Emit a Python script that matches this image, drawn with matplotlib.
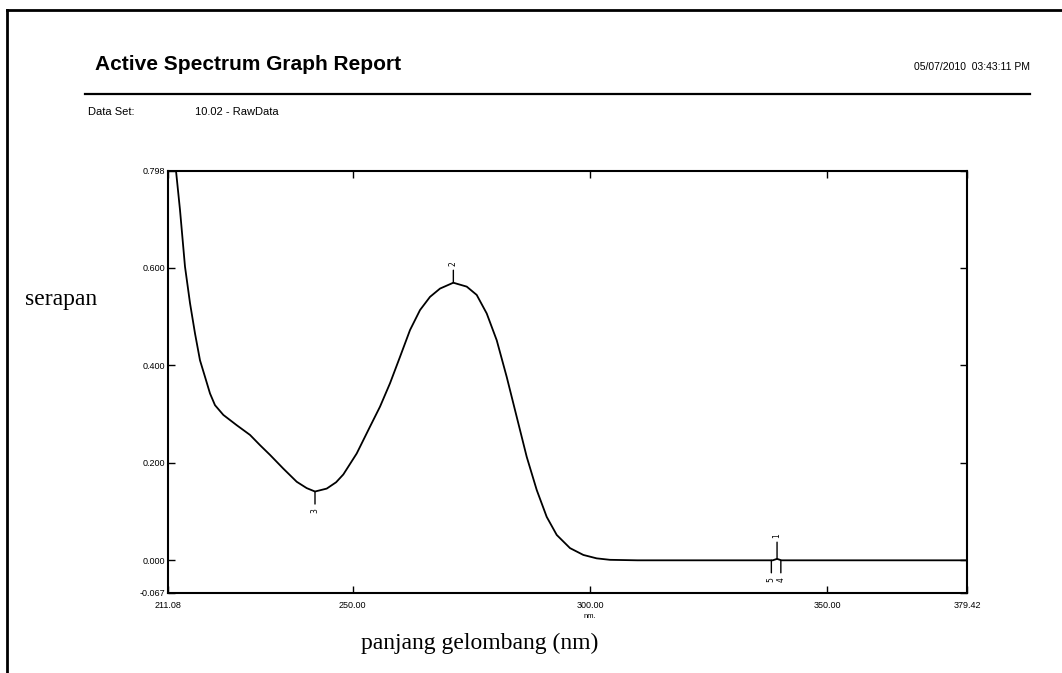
import matplotlib.pyplot as plt
from matplotlib.lines import Line2D

# ---------------------------------------------------------
# spectrum (nm, absorbance)
# ---------------------------------------------------------
wavelength = [211.70, 212.77, 213.61, 214.66, 215.72, 216.77, 217.82, 218.88,
              219.93, 220.98, 222.74, 225.55, 228.36, 230.47, 232.58, 235.37,
              238.20, 240.30, 242.05, 244.52, 246.50, 248.02, 250.84, 253.64,
              255.75, 257.86, 259.96, 262.07, 264.18, 266.28, 268.39, 271.19,
              274.02, 276.12, 278.23, 280.34, 282.44, 284.55, 286.66, 288.77,
              290.87, 292.98, 295.78, 298.59, 301.40, 304.21, 310.0, 338.5,
              339.4, 340.3, 379.42]
absorbance = [0.900, 0.798, 0.718, 0.602, 0.527, 0.465, 0.410, 0.376,
              0.342, 0.318, 0.298, 0.277, 0.257, 0.236, 0.216, 0.188,
              0.161, 0.148, 0.141, 0.147, 0.160, 0.176, 0.219, 0.274,
              0.315, 0.363, 0.417, 0.472, 0.513, 0.540, 0.557, 0.569,
              0.561, 0.544, 0.506, 0.451, 0.376, 0.294, 0.212, 0.144,
              0.089, 0.052, 0.025, 0.011, 0.004, 0.001, 0.000, 0.000,
              0.003, 0.000, 0.000]

# peak picks: label, wavelength, absorbance, above/below
peak_labels = ["1", "2", "3", "4", "5"]
peak_wl = [339.4, 271.2, 242.05, 340.2, 338.2]
peak_abs = [0.003, 0.569, 0.141, 0.000, 0.000]
peak_up = [True, True, False, False, False]

x_ticks = [211.08, 250.0, 300.0, 350.0, 379.42]
y_ticks = [-0.067, 0.000, 0.200, 0.400, 0.600, 0.798]

W, H = 1062, 673


def fy(py):
    return 1 - py / H


fig = plt.figure(figsize=(W / 100, H / 100), dpi=100)

# page frame
fig.add_artist(Line2D([7 / W, 7 / W], [0, fy(10)], color="black", lw=2))
fig.add_artist(Line2D([7 / W, 1], [fy(10), fy(10)], color="black", lw=2))

# header
fig.text(95 / W, fy(64), "Active Spectrum Graph Report", fontsize=15,
         fontweight="bold", family="Liberation Sans", va="center")
fig.text(1030 / W, fy(67), "05/07/2010  03:43:11 PM", fontsize=7.5,
         family="Liberation Sans", ha="right", va="center")
fig.add_artist(Line2D([85 / W, 1030 / W], [fy(94), fy(94)], color="black", lw=1.6))
fig.text(88 / W, fy(112), "Data Set:", fontsize=8, family="Liberation Sans", va="center")
fig.text(195 / W, fy(112), "10.02 - RawData", fontsize=8, family="Liberation Sans", va="center")

# ---------------------------------------------------------
# PLOT
# ---------------------------------------------------------
ax = fig.add_axes([168 / W, 1 - 593 / H, 799 / W, 422 / H])
ax.plot(wavelength, absorbance, color="black", lw=1.3)

ax.set_xlim(211.08, 379.42)
ax.set_ylim(-0.067, 0.798)
ax.set_xticks(x_ticks)
ax.set_yticks(y_ticks)
ax.set_xticklabels(["%.2f" % v for v in x_ticks])
ax.set_yticklabels(["%.3f" % v for v in y_ticks])
ax.tick_params(direction="in", length=5, width=1, labelsize=6.5,
               top=True, right=True)
ax.tick_params(axis="y", pad=2)
ax.tick_params(axis="x", pad=6)
for lab in ax.get_xticklabels() + ax.get_yticklabels():
    lab.set_family("Liberation Sans")
for s in ax.spines.values():
    s.set_linewidth(1.5)

for lab, x, y, up in zip(peak_labels, peak_wl, peak_abs, peak_up):
    off = 12 if lab != "1" else 15
    ax.annotate(lab, xy=(x, y), xytext=(0, off if up else -off),
                textcoords="offset points", rotation=90, fontsize=5.5,
                ha="center", va="bottom" if up else "top",
                arrowprops=dict(arrowstyle="-", lw=1, shrinkA=1, shrinkB=0))

fig.text(590 / W, fy(617), "nm.", fontsize=5.5, family="Liberation Sans", ha="center", va="center")

fig.text(25 / W, fy(300), "serapan", fontsize=17, family="Liberation Serif", va="center")
fig.text(480 / W, fy(643), "panjang gelombang (nm)", fontsize=17,
         family="Liberation Serif", ha="center", va="center")

fig.savefig("out.png", dpi=100)
